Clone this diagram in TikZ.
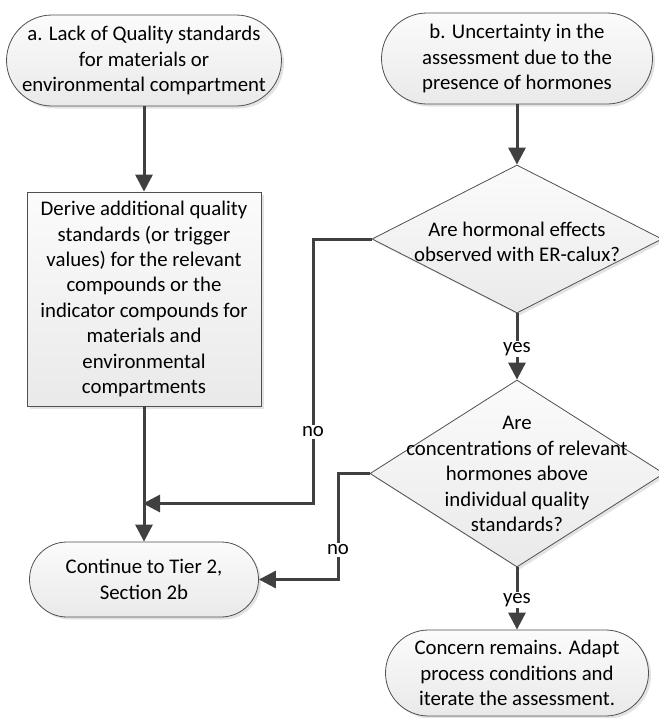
\documentclass[tikz,border=0pt]{standalone}
\usepackage{fontspec}
\setmainfont{Carlito}
\usetikzlibrary{shapes.geometric,shapes.misc,shadows,arrows.meta}
\definecolor{flowclr}{HTML}{404040}
\definecolor{outline}{HTML}{505050}
\begin{document}
\begin{tikzpicture}[x=1pt,y=-1pt,
  font=\fontsize{20.8}{25.4}\selectfont,
  base/.style={draw=outline, line width=0.8pt, top color=gray!3, bottom color=gray!17,
    drop shadow={shadow xshift=2.5pt, shadow yshift=-2.5pt, opacity=0.22, fill=gray},
    align=center, inner sep=0pt},
  terminal/.style={base, rounded rectangle},
  process/.style={base, rectangle},
  decision/.style={base, diamond},
  txt/.style={align=center, inner sep=0pt},
  flow/.style={draw=flowclr, line width=3pt, -{Triangle[length=17pt,width=17pt]}},
  lbl/.style={fill=white, inner sep=1.5pt}
]
\useasboundingbox (0,0) rectangle (659,718);

% left column
\node[terminal, minimum width=265pt, minimum height=91pt] (a) at (144,60.5)
  {a. Lack of Quality standards\\for materials or\\environmental compartment};
\node[process, minimum width=234pt, minimum height=214pt] (derive) at (144,299)
  {Derive additional quality\\standards (or trigger\\values) for the relevant\\compounds or the\\indicator compounds for\\materials and\\environmental\\compartments};
\node[terminal, minimum width=229pt, minimum height=75pt] (cont) at (144,579.5)
  {Continue to Tier 2,\\Section 2b};

% right column
\node[terminal, minimum width=271pt, minimum height=91pt] (b) at (517,58.5)
  {b. Uncertainty in the\\assessment due to the\\presence of hormones};
\node[decision, minimum width=290pt, minimum height=148pt] (d1) at (517,239) {};
\node[txt] (d1t) at (517,242) {Are hormonal effects\\observed with ER-calux?};
\node[decision, minimum width=294pt, minimum height=187pt] (d2) at (517,473.5) {};
\node[txt] (d2t) at (517,474) {Are\\concentrations of relevant\\hormones above\\individual quality\\standards?};
\node[terminal, minimum width=263pt, minimum height=86pt] (concern) at (517,673)
  {Concern remains. Adapt\\process conditions and\\iterate the assessment.};

% junction points of the "no" branches
\coordinate (j1) at (313,503.5);
\coordinate (m1) at (143,503.5);
\coordinate (j2) at (338,579.5);

% connectors
\draw[flow] (a.south) -- (derive.north);
\draw[flow] (derive.south) -- (cont.north);
\draw[flow] (b.south) -- (d1.north);
\draw[flow] (d1.west) -| (j1) -- (m1);
\draw[flow] (d1.south) -- (d2.north);
\draw[flow] (d2.west) -| (j2) -- (cont.east);
\draw[flow] (d2.south) -- (concern.north);

% branch labels
\node[lbl] (no1) at (313,432) {no};
\node[lbl] (no2) at (338,550) {no};
\node[lbl] (yes1) at (517,349) {yes};
\node[lbl] (yes2) at (517,600) {yes};
\end{tikzpicture}
\end{document}
